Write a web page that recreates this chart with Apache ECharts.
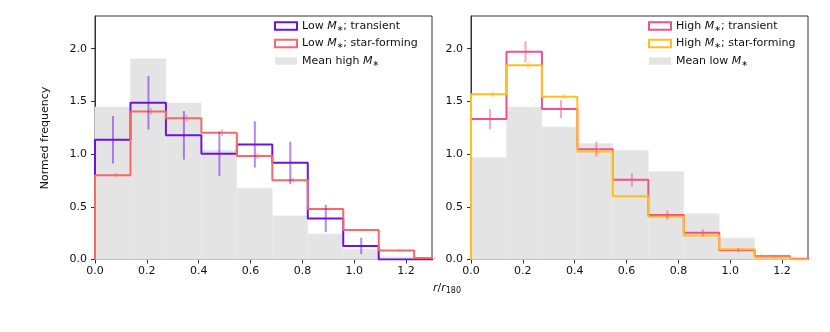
<!DOCTYPE html>
<html>
<head>
<meta charset="utf-8">
<script src="https://cdn.jsdelivr.net/npm/echarts@6/dist/echarts.min.js"></script>
<style>
  html, body { margin: 0; padding: 0; background: #fff; }
  #chart { width: 830px; height: 332px; }
</style>
</head>
<body>
<div id="chart"></div>
<script>
// bin edges in r/r180 (10 bins)
const binEdges = [0, 0.1368, 0.2736, 0.4104, 0.5472, 0.684, 0.8208, 0.9576, 1.0944, 1.2312, 1.368];
const xTicks = [0, 0.2, 0.4, 0.6, 0.8, 1.0, 1.2];
const yTicks = [0, 0.5, 1.0, 1.5, 2.0];

// left panel
const lowTransient = [1.136, 1.487, 1.178, 1.003, 1.092, 0.917, 0.389, 0.129, 0, 0];
const lowTransientErr = [0.225, 0.253, 0.23, 0.21, 0.22, 0.2, 0.13, 0.078, 0, 0];
const lowStarForming = [0.80, 1.405, 1.339, 1.202, 0.981, 0.753, 0.478, 0.281, 0.085, 0.015];
const lowStarFormingErr = [0.02, 0.03, 0.03, 0.03, 0.025, 0.02, 0.015, 0.012, 0.01, 0.005];
const meanHigh = [1.446, 1.905, 1.484, 1.036, 0.677, 0.414, 0.243, 0.098, 0.025, 0.006];

// right panel
const highTransient = [1.332, 1.972, 1.427, 1.047, 0.756, 0.421, 0.253, 0.088, 0.031, 0.008];
const highTransientErr = [0.095, 0.10, 0.084, 0.071, 0.063, 0.044, 0.035, 0.02, 0.012, 0.005];
const highStarForming = [1.567, 1.842, 1.544, 1.025, 0.601, 0.405, 0.228, 0.098, 0.019, 0];
const highStarFormingErr = [0.027, 0.028, 0.025, 0.027, 0.012, 0.012, 0.01, 0.008, 0.005, 0];
const meanLow = [0.968, 1.446, 1.258, 1.10, 1.036, 0.835, 0.434, 0.205, 0.043, 0.008];

const FONT = 'DejaVu Sans';
const C = {
  purple: '#6a14e0', red: '#f76868', pink: '#f2508a', orange: '#ffbe1e', grey: '#e4e4e4'
};

const chart = echarts.init(document.getElementById('chart'));

function stepData(vals) {
  const d = [[binEdges[0], 0]];
  vals.forEach((v, i) => d.push([binEdges[i], v]));
  d.push([binEdges[vals.length], vals[vals.length - 1]]);
  d.push([binEdges[vals.length], 0]);
  return d;
}

function stepSeries(name, vals, color, idx) {
  return {
    name: name, type: 'line', step: 'end', xAxisIndex: idx, yAxisIndex: idx,
    data: stepData(vals), symbol: 'none', z: 3, clip: true,
    lineStyle: { color: color, width: 2 }, itemStyle: { color: color }
  };
}

function histSeries(name, vals, idx) {
  return {
    name: name, type: 'custom', xAxisIndex: idx, yAxisIndex: idx, z: 1,
    itemStyle: { color: C.grey },
    data: vals.map((v, i) => [binEdges[i], binEdges[i + 1], v]),
    encode: { x: [0, 1], y: 2 },
    renderItem: function (params, api) {
      const p0 = api.coord([api.value(0), api.value(2)]);
      const p1 = api.coord([api.value(1), 0]);
      const cs = params.coordSys;
      const shape = echarts.graphic.clipRectByRect(
        { x: p0[0], y: p0[1], width: p1[0] - p0[0], height: p1[1] - p0[1] },
        { x: cs.x, y: cs.y, width: cs.width, height: cs.height });
      return shape && { type: 'rect', shape: shape,
        style: { fill: C.grey, stroke: '#ebebeb', lineWidth: 0.6 } };
    }
  };
}

function errSeries(vals, errs, color, offset, idx) {
  return {
    type: 'custom', xAxisIndex: idx, yAxisIndex: idx, z: 4, silent: true,
    data: vals.map((v, i) => [(binEdges[i] + binEdges[i + 1]) / 2 + offset, v, errs[i]]),
    renderItem: function (params, api) {
      const e = api.value(2);
      if (!e) return null;
      const a = api.coord([api.value(0), api.value(1) - e]);
      const b = api.coord([api.value(0), api.value(1) + e]);
      return { type: 'line', shape: { x1: a[0], y1: a[1], x2: b[0], y2: b[1] },
        style: { stroke: color, lineWidth: 2, opacity: 0.5 } };
    }
  };
}

function legendCfg(left, items) {
  return {
    orient: 'vertical', left: left, top: 19, padding: 0, itemWidth: 22, itemHeight: 7.5,
    itemGap: 3.5, selectedMode: false, icon: 'rect',
    data: items.map(it => ({
      name: it.name, icon: 'rect',
      itemStyle: it.fill
        ? { color: it.color, borderWidth: 0 }
        : { color: 'rgba(0,0,0,0)', borderColor: it.color, borderWidth: 2 }
    })),
    formatter: function (name) {
      const parts = name.split('M*');
      return '{n|' + parts[0] + '}{i|M}{s|∗}{n|' + parts[1] + '}';
    },
    textStyle: {
      fontFamily: FONT, fontSize: 11, color: '#111', lineHeight: 14,
      rich: {
        n: { fontFamily: FONT, fontSize: 11, color: '#111' },
        i: { fontFamily: FONT, fontSize: 11, fontStyle: 'italic', color: '#111' },
        s: { fontFamily: FONT, fontSize: 8, color: '#111', padding: [5, 0, 0, 0] }
      }
    }
  };
}

function xAxisCfg(idx) {
  return {
    type: 'value', gridIndex: idx, min: 0, max: 1.3,
    axisLine: { show: true, lineStyle: { color: '#333', width: 1 } },
    axisTick: { show: true, length: 4, customValues: xTicks, lineStyle: { color: '#333' } },
    axisLabel: { customValues: xTicks, margin: 6, fontFamily: FONT, fontSize: 11, color: '#111',
      formatter: v => v.toFixed(1) },
    splitLine: { show: false }
  };
}

function yAxisCfg(idx) {
  return {
    type: 'value', gridIndex: idx, min: 0, max: 2.31,
    axisLine: { show: true, lineStyle: { color: '#333', width: 1 } },
    axisTick: { show: true, length: 4, customValues: yTicks, lineStyle: { color: '#333' } },
    axisLabel: { customValues: yTicks, margin: 8, fontFamily: FONT, fontSize: 11, color: '#111',
      formatter: v => v.toFixed(1) },
    splitLine: { show: false }
  };
}

const gridBase = { top: 16, height: 243.5, width: 337, show: true,
  borderColor: '#333', borderWidth: 1, backgroundColor: 'rgba(0,0,0,0)' };

chart.setOption({
  animation: false,
  backgroundColor: '#fff',
  textStyle: { fontFamily: FONT },
  grid: [
    Object.assign({ left: 95 }, gridBase),
    Object.assign({ left: 471 }, gridBase)
  ],
  xAxis: [xAxisCfg(0), xAxisCfg(1)],
  yAxis: [yAxisCfg(0), yAxisCfg(1)],
  legend: [
    legendCfg(274, [
      { name: 'Low M*; transient', color: C.purple },
      { name: 'Low M*; star-forming', color: C.red },
      { name: 'Mean high M*', color: C.grey, fill: true }
    ]),
    legendCfg(648, [
      { name: 'High M*; transient', color: C.pink },
      { name: 'High M*; star-forming', color: C.orange },
      { name: 'Mean low M*', color: C.grey, fill: true }
    ])
  ],
  graphic: [
    { type: 'text', x: 45, y: 138, rotation: Math.PI / 2,
      style: { text: 'Normed frequency', fontFamily: FONT, fontSize: 11, fill: '#111',
        align: 'center', verticalAlign: 'middle' } },
    { type: 'text', x: 447, y: 288,
      style: { text: '{i|r}{n|/}{i|r}{s|180}', align: 'center', verticalAlign: 'middle',
        rich: {
          i: { fontFamily: FONT, fontSize: 11, fontStyle: 'italic', fill: '#111' },
          n: { fontFamily: FONT, fontSize: 11, fill: '#111' },
          s: { fontFamily: FONT, fontSize: 8, fill: '#111', padding: [5, 0, 0, 0] }
        } } }
  ],
  series: [
    histSeries('Mean high M*', meanHigh, 0),
    stepSeries('Low M*; transient', lowTransient, C.purple, 0),
    stepSeries('Low M*; star-forming', lowStarForming, C.red, 0),
    errSeries(lowTransient, lowTransientErr, C.purple, 0.001, 0),
    errSeries(lowStarForming, lowStarFormingErr, C.red, 0.011, 0),

    histSeries('Mean low M*', meanLow, 1),
    stepSeries('High M*; transient', highTransient, C.pink, 1),
    stepSeries('High M*; star-forming', highStarForming, C.orange, 1),
    errSeries(highTransient, highTransientErr, C.pink, 0.005, 1),
    errSeries(highStarForming, highStarFormingErr, C.orange, 0.015, 1)
  ]
});
</script>
</body>
</html>
